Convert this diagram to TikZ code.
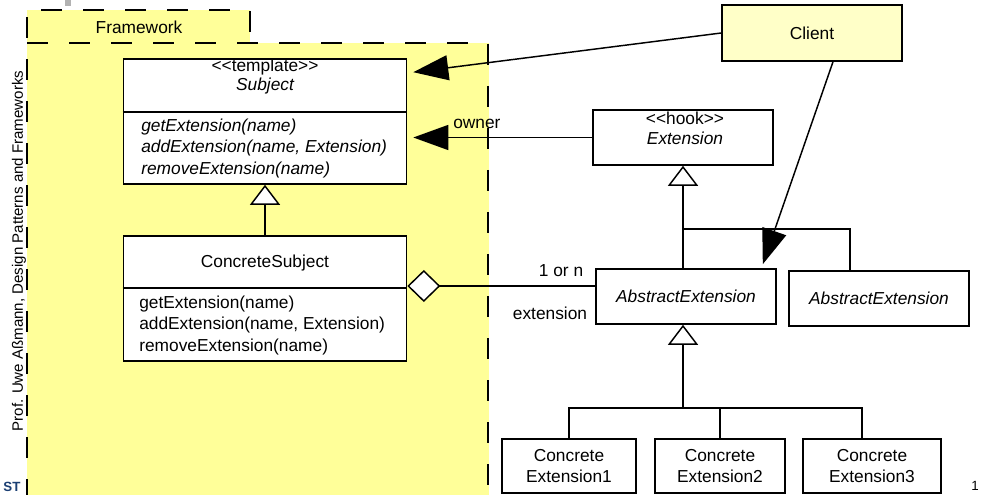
\documentclass[tikz,border=0pt]{standalone}
\usepackage{fontspec}
\setmainfont{Liberation Sans}
\usetikzlibrary{arrows.meta,calc}
\definecolor{fwyellow}{HTML}{FFFF99}
\definecolor{clientyellow}{HTML}{FFFFC8}
\definecolor{logoblue}{HTML}{1B3F73}
\begin{document}
\begin{tikzpicture}[x=0.75pt,y=-0.75pt,
  every node/.style={font=\fontsize{13}{15.75}\selectfont, inner sep=0pt},
  box/.style={draw, line width=1.2pt, fill=white, align=center},
  classbox/.style={box, minimum width=212.25pt, minimum height=93.75pt},
  extbox/.style={box, minimum width=135pt, minimum height=41.25pt},
  dashline/.style={line width=1.3pt, dash pattern=on 15.75pt off 15.75pt},
  conn/.style={line width=1.1pt},
  assoc/.style={conn, -{Triangle[length=26.25pt,width=18.75pt]}},
  gen/.style={conn, -{Triangle[open,fill=white,length=15pt,width=22.5pt]}},
  agg/.style={conn, {Diamond[open,fill=white,length=24.75pt,width=24pt]}-},
  meth/.style={anchor=west}
]
\useasboundingbox (0,0) rectangle (981,495);
% framework package
\fill[fwyellow] (27,10) rectangle (250,43);
\fill[fwyellow] (27,43) rectangle (489,500);
\draw[dashline] (27,500) -- (27,10) -- (250,10) -- (250,43);
\draw[dashline] (27,43) -- (488,43) -- (488,500);
\node (fwlabel) at (139,27) {Framework};
\fill[gray!60] (65,0) rectangle (71,6);

% side text, logo, page number
\node[rotate=90, font=\fontsize{11.3}{13}\selectfont] (side) at (19,251) {Prof. Uwe Aßmann, Design Patterns and Frameworks};
\node[text=logoblue, font=\bfseries\fontsize{10}{10}\selectfont] (logo) at (12,487) {ST};
\node[anchor=west, font=\fontsize{10}{10}\selectfont] (pageno) at (971,486) {1};

% Subject
\node[classbox] (subject) at (265,121.5) {};
\draw[line width=1.2pt] (subject.west |- 0,112) -- (subject.east |- 0,112);
\node (subjst) at (265,67) {<\kern0pt<template>\kern0pt>};
\node[font=\itshape\fontsize{13}{15.75}\selectfont] (subjname) at (265,86) {Subject};
\node[meth, font=\itshape\fontsize{13}{15.75}\selectfont] (sm1) at (141,127) {getExtension(name)};
\node[meth, font=\itshape\fontsize{13}{15.75}\selectfont] (sm2) at (141,148) {addExtension(name, Extension)};
\node[meth, font=\itshape\fontsize{13}{15.75}\selectfont] (sm3) at (141,170) {removeExtension(name)};

% ConcreteSubject
\node[classbox] (csubject) at (265,298.5) {};
\draw[line width=1.2pt] (csubject.west |- 0,288) -- (csubject.east |- 0,288);
\node (csname) at (265,263) {ConcreteSubject};
\node[meth] (cm1) at (139,304) {getExtension(name)};
\node[meth] (cm2) at (139,325) {addExtension(name, Extension)};
\node[meth] (cm3) at (139,347) {removeExtension(name)};

% Client
\node[box, fill=clientyellow, minimum width=135pt, minimum height=42pt] (client) at (812,33) {Client};

% Extension
\node[extbox] (extension) at (683,137.5) {};
\node (extst) at (685,118) {<\kern0pt<hook>\kern0pt>};
\node[font=\itshape\fontsize{13}{15.75}\selectfont] (extname) at (685,138) {Extension};

% Abstract extensions
\node[extbox, font=\itshape\fontsize{13}{15.75}\selectfont] (absext1) at (686,296.5) {AbstractExtension};
\node[extbox, font=\itshape\fontsize{13}{15.75}\selectfont] (absext2) at (879,298.5) {AbstractExtension};

% Concrete extensions
\node[box, minimum width=100.5pt, minimum height=40.5pt] (ce1) at (569,466) {Concrete\\Extension1};
\node[box, minimum width=97.5pt, minimum height=40.5pt] (ce2) at (720,466) {Concrete\\Extension2};
\node[box, minimum width=103.5pt, minimum height=40.5pt] (ce3) at (872,466) {Concrete\\Extension3};

% connectors
\draw[gen] (csubject.north) -- (subject.south);
\draw[assoc] (client.west) -- ($(subject.north east)+(6,14)$);
\coordinate (subjR) at ([xshift=4.5pt]subject.east);
\draw[assoc] (extension.west) -- (subjR |- extension.west);
\node[anchor=west] (owner) at (453,124) {owner};

\coordinate (aggstart) at ([yshift=9.375pt]csubject.east);
\draw[agg] (aggstart) -- (aggstart -| absext1.west);
\node (mult) at (561,271) {1 or n};
\node (role) at (550,313) {extension};

\draw[gen] (absext1.north -| extension.south) -- (extension.south);
\coordinate (br1) at ($(extension.south)+(0,63)$);
\draw[conn] (br1) -| ([xshift=-21.75pt]absext2.north);

\draw[assoc] ([xshift=15.75pt]client.south) -- ([xshift=-10.5pt,yshift=3pt]absext1.north east);

\coordinate (t2) at (extension.south |- absext1.south);
\coordinate (j2) at ($(t2)+(0,83)$);
\draw[gen] (j2) -- (t2);
\draw[conn] (ce1.north) |- (j2) -| ([xshift=-7.5pt]ce3.north);
\draw[conn] (ce2.north) -- (ce2.north |- j2);
\end{tikzpicture}
\end{document}
